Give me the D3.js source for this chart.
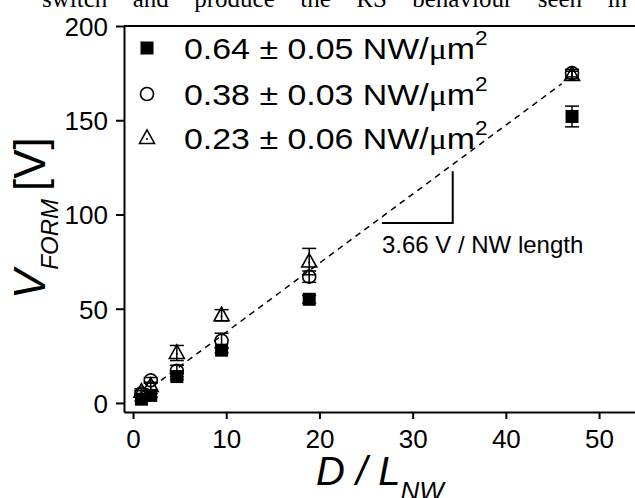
<!DOCTYPE html>
<html>
<head>
<meta charset="utf-8">
<script src="https://cdn.jsdelivr.net/npm/d3@7"></script>
<style>
  html, body { margin: 0; padding: 0; background: #fff; }
  svg { display: block; }
  text { font-family: "Liberation Sans", Arial, sans-serif; fill: #000; }
</style>
</head>
<body>
<svg id="chart" width="635" height="498"></svg>
<script>
// ratio D / L_NW, shared by all three densities
const ratios = [0.9, 1.9, 4.7, 9.5, 18.9, 47.1];

const denseV = [2, 4, 14, 28, 55, 152];
const denseErr = [1, 1, 1.5, 1.5, 2, 5.5];
const midV = [5, 12, 17, 33, 67, 175];
const midErr = [1.5, 1.5, 3, 4, 3, 2];
const sparseV = [6, 9, 26.5, 46.5, 75, 174];
const sparseErr = [1.5, 2, 4, 3, 7, 2];

const legendLabels = ["0.64 \u00b1 0.05 NW/", "0.38 \u00b1 0.03 NW/", "0.23 \u00b1 0.06 NW/"];
const xTicks = [0, 10, 20, 30, 40, 50];
const yTicks = [0, 50, 100, 150, 200];

const fitSlope = 3.66;
const fitIntercept = 1;
const fitRange = [3, 46];
const slopeTriX = [26.7, 34.3];
const slopeTriY = [95.5, 123];
const slopeLabel = "3.66 V / NW length";
const bodyLine = "switch and produce the RS behaviour seen in";

const svg = d3.select("#chart");

// clipped line of body text above the figure, justified across the page
const body = svg.append("text")
  .attr("x", 42)
  .attr("y", 7)
  .style("font-family", "'Liberation Serif', serif")
  .style("font-size", "25px")
  .text(bodyLine);
const natural = body.node().getComputedTextLength();
body.style("word-spacing", `${(585 - natural) / 7}px`);

const x = d3.scaleLinear().domain([-0.97, 54.5]).range([124, 641]);
const y = d3.scaleLinear().domain([-4.8, 200]).range([412, 26]);

const xAxis = svg.append("g")
  .attr("transform", `translate(0,${y(-4.8)})`)
  .call(d3.axisBottom(x).tickValues(xTicks).tickSizeInner(7).tickSizeOuter(0).tickFormat(d3.format("d")));
xAxis.selectAll("text").attr("y", 36).attr("dy", 0).style("font-size", "26px");

const yAxis = svg.append("g")
  .attr("transform", `translate(${x(-0.97)},0)`)
  .call(d3.axisLeft(y).tickValues(yTicks).tickSizeInner(8).tickSizeOuter(0).tickFormat(d3.format("d")));
yAxis.selectAll("text").attr("x", -16).attr("dy", "0.36em").style("font-size", "26px");

svg.selectAll(".domain, .tick line").attr("stroke", "#000").attr("stroke-width", 2);

// top frame line
svg.append("line")
  .attr("x1", x(-0.97)).attr("x2", 641)
  .attr("y1", y(200)).attr("y2", y(200))
  .attr("stroke", "#000").attr("stroke-width", 2);

// fit line
svg.append("path")
  .datum(fitRange)
  .attr("fill", "none")
  .attr("stroke", "#000")
  .attr("stroke-width", 1.5)
  .attr("stroke-dasharray", "6,5")
  .attr("d", d3.line().x((d) => x(d)).y((d) => y(fitSlope * d + fitIntercept)));

// slope triangle
svg.append("path")
  .attr("fill", "none")
  .attr("stroke", "#000")
  .attr("stroke-width", 2)
  .attr("d", d3.line()([
    [x(slopeTriX[0]), y(slopeTriY[0])],
    [x(slopeTriX[1]), y(slopeTriY[0])],
    [x(slopeTriX[1]), y(slopeTriY[1])],
  ]));
svg.append("text")
  .attr("x", x(slopeTriX[0]))
  .attr("y", y(79.6))
  .style("font-size", "24px")
  .text(slopeLabel);

const series = [
  { values: denseV, err: denseErr, shape: "square" },
  { values: midV, err: midErr, shape: "circle" },
  { values: sparseV, err: sparseErr, shape: "triangle" },
];

function drawMarker(g, shape, cx, cy) {
  if (shape === "square") {
    g.append("rect").attr("x", cx - 6.5).attr("y", cy - 6.5).attr("width", 13).attr("height", 13).attr("fill", "#000");
  } else if (shape === "circle") {
    g.append("circle").attr("cx", cx).attr("cy", cy).attr("r", 6.5)
      .attr("fill", "none").attr("stroke", "#000").attr("stroke-width", 1.6);
  } else {
    const h = 13;
    g.append("path")
      .attr("d", `M${cx},${cy - h * 0.62}L${cx + 7.5},${cy + h * 0.42}L${cx - 7.5},${cy + h * 0.42}Z`)
      .attr("fill", "none").attr("stroke", "#000").attr("stroke-width", 1.6);
    g.append("circle").attr("cx", cx).attr("cy", cy + 1).attr("r", 1).attr("fill", "#000");
  }
}

const points = svg.append("g");
series.forEach((s) => {
  s.values.forEach((v, i) => {
    const cx = x(ratios[i]);
    const lo = y(v - s.err[i]);
    const hi = y(v + s.err[i]);
    const g = points.append("g");
    g.append("line").attr("x1", cx).attr("x2", cx).attr("y1", lo).attr("y2", hi)
      .attr("stroke", "#000").attr("stroke-width", 1.5);
    [lo, hi].forEach((yy) => {
      g.append("line").attr("x1", cx - 7).attr("x2", cx + 7).attr("y1", yy).attr("y2", yy)
        .attr("stroke", "#000").attr("stroke-width", 1.5);
    });
    drawMarker(g, s.shape, cx, y(v));
  });
});

// legend (text is drawn a little wide, as in the original)
const legendY = [48, 94, 138];
series.forEach((s, i) => {
  const g = svg.append("g");
  drawMarker(g, s.shape, 147, legendY[i]);
  const t = g.append("text")
    .attr("transform", `translate(184,${legendY[i] + 11}) scale(1.13,1)`)
    .style("font-size", "30px");
  t.append("tspan").text(legendLabels[i]);
  t.append("tspan").style("font-family", "'Liberation Serif', serif").text("\u03bc");
  t.append("tspan").text("m");
  t.append("tspan").attr("dy", -14).style("font-size", "20px").text("2");
});

// y axis title
const yTitle = svg.append("text")
  .attr("transform", "translate(45,299) rotate(-90)")
  .style("font-size", "44px")
  .style("font-style", "italic");
yTitle.append("tspan").text("V");
yTitle.append("tspan").attr("dy", 13).style("font-size", "24px").text("FORM");
svg.append("text")
  .attr("transform", "translate(45,191) rotate(-90)")
  .style("font-size", "44px")
  .text("[V]");

// x axis title
const xTitle = svg.append("text")
  .attr("x", 316)
  .attr("y", 485)
  .style("font-size", "40px")
  .style("font-style", "italic");
xTitle.append("tspan").text("D / L");
xTitle.append("tspan").attr("dy", 15).style("font-size", "26px").text("NW");
</script>
</body>
</html>
